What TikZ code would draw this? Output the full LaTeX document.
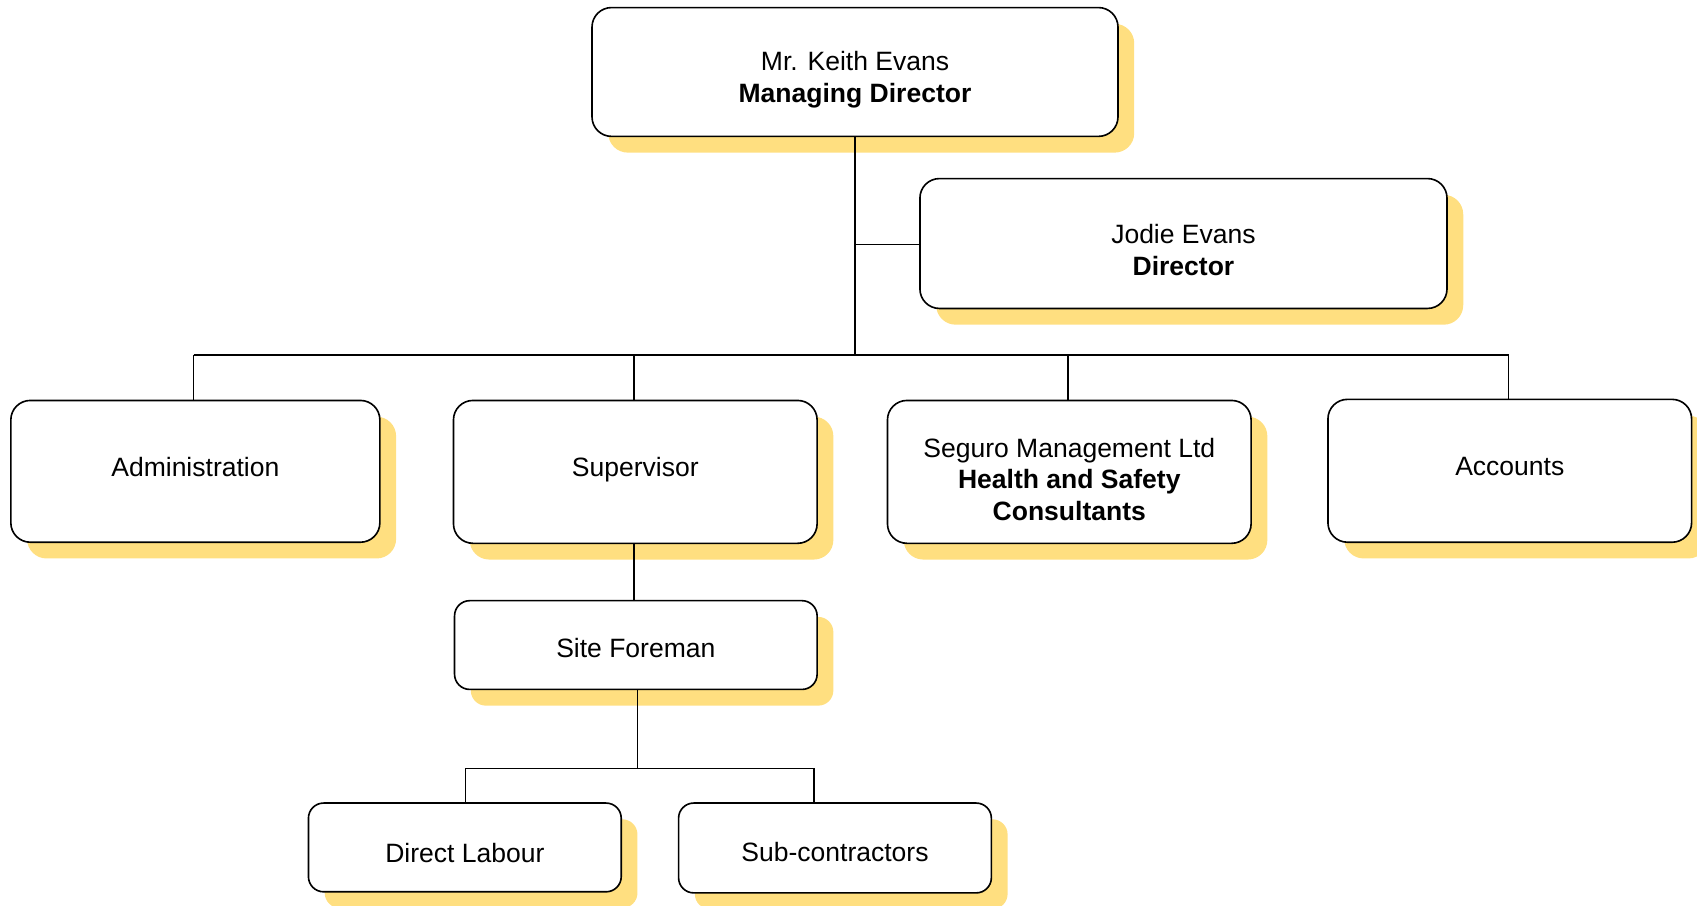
\documentclass[tikz,border=0pt]{standalone}
\usepackage{fontspec}
\setmainfont{Liberation Sans}
\usetikzlibrary{shadows}
\definecolor{shadowyellow}{RGB}{255,223,128}
\begin{document}
\begin{tikzpicture}[x=1pt,y=-1pt,
  orgbox/.style={draw=black, line width=1.5pt, fill=white, rounded corners=18pt,
    inner sep=0pt,
    drop shadow={shadow xshift=15pt, shadow yshift=-15pt, fill=shadowyellow, opacity=1, draw=none}},
  lbl/.style={align=center, inner sep=0pt, font=\fontsize{24.5}{29}\selectfont},
  conn/.style={draw=black, line width=1.4pt}]
\useasboundingbox (0,0) rectangle (1568,836.3);
% boxes
\node[orgbox, minimum width=486pt, minimum height=119pt] (md) at (790,66.5) {};
\node[orgbox, minimum width=487pt, minimum height=120pt] (jodie) at (1093.5,225) {};
\node[orgbox, minimum width=341pt, minimum height=131pt] (admin) at (180.5,435.5) {};
\node[orgbox, minimum width=336pt, minimum height=132pt] (sup) at (587,436) {};
\node[orgbox, minimum width=336pt, minimum height=132pt] (seg) at (988,436) {};
\node[orgbox, minimum width=336pt, minimum height=132pt] (acc) at (1395,435) {};
\node[orgbox, rounded corners=14pt, minimum width=335pt, minimum height=82pt] (fore) at (587.5,596) {};
\node[orgbox, rounded corners=14pt, minimum width=289pt, minimum height=82pt] (dl) at (429.5,783) {};
\node[orgbox, rounded corners=14pt, minimum width=289pt, minimum height=83pt] (sc) at (771.5,783.5) {};
% texts
\node[lbl] (mdT) at (790,73.5) {Mr. Keith Evans\\\textbf{Managing Director}};
\node[lbl] (jodieT) at (1093.5,231) {Jodie Evans\\\textbf{Director}};
\node[lbl] (adminT) at (180.5,431.5) {Administration};
\node[lbl] (supT) at (587,434) {Supervisor};
\node[lbl] (segT) at (988,443) {Seguro Management Ltd\\\textbf{Health and Safety}\\\textbf{Consultants}};
\node[lbl] (accT) at (1395,431) {Accounts};
\node[lbl] (foreT) at (587.5,599) {Site Foreman};
\node[lbl] (dlT) at (429.5,788) {Direct Labour};
\node[lbl] (scT) at (771.5,787.5) {Sub-contractors};
% connectors
\coordinate (bus) at (790,328);
\coordinate (busL) at (179,328);
\coordinate (busR) at (1394,328);
\coordinate (busS) at (586,328);
\coordinate (busG) at (987,328);
\coordinate (jt) at (790,226);
\coordinate (fbus) at (589,710);
\coordinate (fbL) at (430,710);
\coordinate (fbR) at (752,710);
\draw[conn] (md.south) -- (bus);
\draw[conn] (jt) -- (jt -| jodie.west);
\draw[conn] (busL) -- (busR);
\draw[conn] (busL) -- (busL |- admin.north);
\draw[conn] (busS) -- (busS |- sup.north);
\draw[conn] (busG) -- (busG |- seg.north);
\draw[conn] (busR) -- (busR |- acc.north);
\draw[conn] (busS |- sup.south) -- (busS |- fore.north);
\draw[conn] (fbus |- fore.south) -- (fbus);
\draw[conn] (fbL) -- (fbR);
\draw[conn] (fbL) -- (fbL |- dl.north);
\draw[conn] (fbR) -- (fbR |- sc.north);
\end{tikzpicture}
\end{document}
